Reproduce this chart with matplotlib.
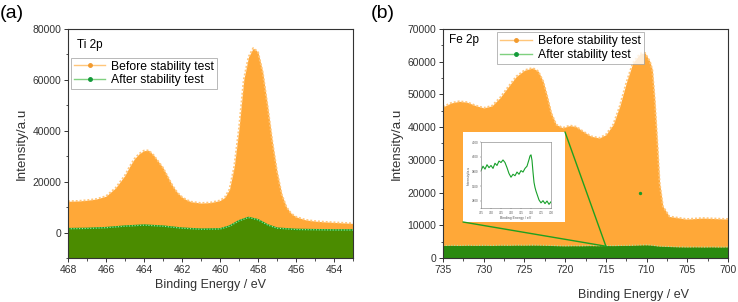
import numpy as np
import matplotlib.pyplot as plt
from matplotlib.lines import Line2D
from matplotlib.patches import ConnectionPatch
from matplotlib.ticker import MultipleLocator

plt.rcParams['font.family'] = ['Liberation Sans', 'DejaVu Sans']

# Ti 2p data
ti_be = [468.0, 467.5, 467.0, 466.5, 466.0, 465.5, 465.0, 464.75, 464.5, 464.25,
         464.0, 463.75, 463.5, 463.25, 463.0, 462.75, 462.5, 462.25, 462.0, 461.75,
         461.5, 461.0, 460.5, 460.0, 459.75, 459.5, 459.25, 459.0, 458.75, 458.5,
         458.25, 458.0, 457.75, 457.5, 457.25, 457.0, 456.75, 456.5, 456.25, 456.0,
         455.5, 455.0, 454.5, 454.0, 453.5, 453.0]
ti_before = [12300, 12400, 12700, 13200, 14300, 17500, 22500, 26000, 29000, 31000,
             32200, 32300, 30500, 28000, 25500, 22000, 18500, 15800, 14000, 12800,
             12100, 11600, 11800, 12600, 13800, 17000, 26000, 41000, 60000, 69000,
             72500, 71000, 63000, 50000, 36000, 24000, 15000, 10000, 7500, 6200,
             5000, 4500, 4200, 4000, 3800, 3600]
ti_after_be = [468, 467, 466, 465, 464, 463, 462, 461, 460, 459.5, 459, 458.5,
               458, 457.5, 457, 456, 455, 454, 453]
ti_after = [1500, 1600, 1900, 2500, 2900, 2500, 1700, 1300, 1400, 2500, 4600, 5900,
            5000, 3000, 1700, 1200, 1100, 1000, 1000]

# Fe 2p data
fe_be = [735, 734, 733, 732, 731, 730, 729, 728, 727, 726, 725, 724, 723.3, 722.7,
         722.2, 721.7, 721.1, 720.3, 719.4, 718.6, 717.8, 716.8, 715.8, 715.0, 714.1,
         713.3, 712.5, 711.7, 710.8, 710.2, 709.6, 709.3, 709.0, 708.7, 708.4, 708.0,
         707.2, 705.1, 703.1, 700]
fe_before = [46200, 47400, 47900, 47600, 46600, 45900, 46500, 49000, 52300, 55500,
             57400, 58100, 57100, 54000, 49400, 44300, 40800, 39800, 40500, 40100,
             38700, 37200, 36700, 37700, 40800, 46400, 53500, 59600, 62500, 62700,
             60100, 57600, 48400, 36200, 22900, 15800, 12700, 11900, 12200, 11900]
fe_after_be = [735, 734, 733, 732, 731, 730, 729, 728, 727, 726, 725, 724, 723, 722,
               721, 720, 719, 718, 717, 716, 715, 714, 713, 712, 711, 710.5, 710,
               709.5, 709, 708.5, 708, 707.5, 707, 706, 705, 704, 703, 702, 701, 700]
fe_after = [3810, 3870, 3830, 3890, 3850, 3880, 3840, 3910, 3880, 3940, 3920, 3955,
            3920, 3850, 3770, 3720, 3760, 3740, 3790, 3760, 3810, 3790, 3840, 3870,
            3960, 4010, 4025, 3950, 3790, 3650, 3580, 3530, 3490, 3410, 3370, 3400,
            3360, 3395, 3350, 3385]
stray_be = [710.8]
stray_val = [19900]

orange = '#FFA838'
orange_edge = '#FFC67A'
green_a = '#4B8C00'
green_b = '#2B8A10'
green_line = '#14A01E'

fig = plt.figure(figsize=(7.38, 3.02), dpi=100)
ax1 = fig.add_axes([0.0921, 0.1457, 0.3862, 0.7583])
ax2 = fig.add_axes([0.6003, 0.1457, 0.3862, 0.7583])


def style(ax):
    ax.tick_params(which='major', direction='out', length=3, width=0.7,
                   labelsize=7.5, colors='#333333', pad=2)
    ax.tick_params(which='minor', direction='out', length=1.8, width=0.6, colors='#333333')
    ax.tick_params(top=False, right=False)
    for s in ax.spines.values():
        s.set_linewidth(0.8)
        s.set_color('#333333')


# panel a
ax1.set_xlim(468, 453)
ax1.set_ylim(-10000, 80000)
ax1.fill_between(ti_be, ti_before, -10000, color=orange, lw=0)
ax1.plot(ti_be, ti_before, color=orange_edge, lw=1.4, ls=(0, (1, 1)))
ax1.fill_between(ti_after_be, ti_after, -10000, color=green_a, lw=0)
ax1.plot(ti_after_be, ti_after, color=green_line, lw=1.2)
ax1.plot(ti_after_be, ti_after, color='#A8E6A0', lw=0.8, ls=(0, (1, 1.5)))
ax1.xaxis.set_major_locator(MultipleLocator(2))
ax1.xaxis.set_minor_locator(MultipleLocator(1))
ax1.yaxis.set_major_locator(MultipleLocator(20000))
ax1.yaxis.set_minor_locator(MultipleLocator(10000))
style(ax1)
ax1.set_xlabel('Binding Energy / eV', fontsize=9, color='#333333', labelpad=3)
ax1.set_ylabel('Intensity/a.u', fontsize=9.6, color='#333333', labelpad=3)
ax1.text(0.03, 0.93, 'Ti 2p', transform=ax1.transAxes, fontsize=8.5, va='center')

handles = [Line2D([], [], color=orange_edge, lw=1, marker='o', ms=2.5,
                  mfc='#F29A2E', mec='#F29A2E'),
           Line2D([], [], color='#7FD07F', lw=1, marker='o', ms=2.5,
                  mfc='#139A3A', mec='#139A3A')]
labels = ['Before stability test', 'After stability test']
leg1 = ax1.legend(handles, labels, loc='upper left', bbox_to_anchor=(0.01, 0.875),
                  fontsize=8.7, frameon=True, fancybox=False, edgecolor='#999999',
                  handlelength=2.6, handletextpad=0.5, borderpad=0.25, labelspacing=0.15,
                  borderaxespad=0)
leg1.get_frame().set_linewidth(0.6)

# panel b
ax2.set_xlim(735, 700)
ax2.set_ylim(0, 70000)
ax2.fill_between(fe_be, fe_before, 0, color=orange, lw=0)
ax2.plot(fe_be, fe_before, color=orange_edge, lw=1.4, ls=(0, (1, 1)))
ax2.fill_between(fe_after_be, fe_after, 0, color=green_b, lw=0)
ax2.plot(fe_after_be, fe_after, color='#A8E6A0', lw=0.8, ls=(0, (1, 1.5)))
ax2.scatter(stray_be, stray_val, s=2, color='#1A9A2A', zorder=3)
ax2.xaxis.set_major_locator(MultipleLocator(5))
ax2.xaxis.set_minor_locator(MultipleLocator(2.5))
ax2.yaxis.set_major_locator(MultipleLocator(10000))
ax2.yaxis.set_minor_locator(MultipleLocator(5000))
style(ax2)
ax2.set_xlabel('Binding Energy / eV', fontsize=9, color='#333333')
ax2.xaxis.set_label_coords(0.67, -0.135)
ax2.set_ylabel('Intensity/a.u', fontsize=9.6, color='#333333', labelpad=3)
ax2.text(0.02, 0.95, 'Fe 2p', transform=ax2.transAxes, fontsize=8.5, va='center')
leg2 = ax2.legend(handles, labels, loc='upper left', bbox_to_anchor=(0.19, 0.985),
                  fontsize=8.7, frameon=True, fancybox=False, edgecolor='#999999',
                  handlelength=2.6, handletextpad=0.5, borderpad=0.25, labelspacing=0.15,
                  borderaxespad=0)
leg2.get_frame().set_linewidth(0.6)

# inset box (white card) and small plot
box = fig.add_axes([463 / 738, 1 - 222 / 302, 102 / 738, 90 / 302])
box.set_xticks([])
box.set_yticks([])
for s in box.spines.values():
    s.set_visible(False)
box.set_facecolor('white')
ins = fig.add_axes([481 / 738, 1 - 208 / 302, 70 / 738, 66 / 302])
ins.plot(fe_after_be, fe_after, color='#17A02A', lw=0.8)
ins.set_xlim(735, 700)
ins.set_ylim(3300, 4200)
ins.xaxis.set_major_locator(MultipleLocator(5))
ins.yaxis.set_major_locator(MultipleLocator(200))
ins.tick_params(labelsize=2.2, length=1, width=0.3, pad=0.8, colors='#555555')
for s in ins.spines.values():
    s.set_linewidth(0.4)
    s.set_color('#777777')
ins.set_xlabel('Binding Energy / eV', fontsize=2.5, labelpad=0.8, color='#555555')
ins.set_ylabel('Intensity/a.u', fontsize=2.5, labelpad=0.8, color='#555555')

for xy in [(0, 0), (1, 1)]:
    con = ConnectionPatch(xyA=xy, coordsA=box.transAxes, xyB=(715, 3600),
                          coordsB=ax2.transData, color='#1FA01F', lw=1.0)
    fig.add_artist(con)

fig.text(0.0, 0.955, '(a)', fontsize=14, va='center')
fig.text(0.502, 0.955, '(b)', fontsize=14, va='center')

fig.savefig('out.png', dpi=100)
